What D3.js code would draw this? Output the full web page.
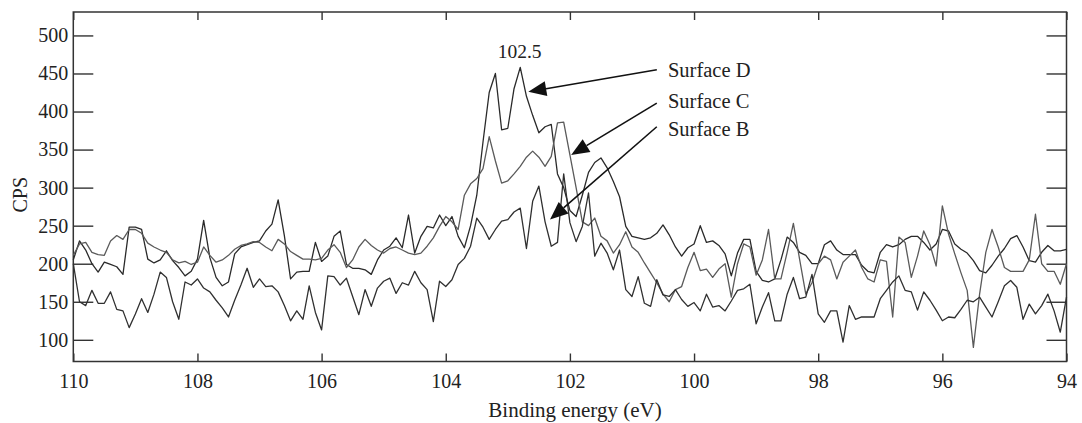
<!DOCTYPE html>
<html>
<head>
<meta charset="utf-8">
<script src="https://cdn.jsdelivr.net/npm/d3@7"></script>
<style>
  html, body { margin: 0; padding: 0; background: #fff; }
  svg { display: block; }
  .domain { display: none; }
</style>
</head>
<body>
<div id="chart"></div>
<script>
const WIDTH = 1082;
const HEIGHT = 423;
const MARGIN = { top: 12, right: 15.5, bottom: 61.5, left: 73.3 };
const FONT = '"Liberation Serif", "Times New Roman", serif';

// sampling grid of the spectra, 110 eV down to 94 eV in 0.1 eV steps
const energy = d3.range(161).map((i) => +(110 - i * 0.1).toFixed(1));

const surfaceD = [
  205, 230, 218, 200, 189, 202, 199, 196, 186, 248,
  248, 245, 206, 201, 205, 217, 204, 195, 184, 190,
  206, 257, 208, 182, 171, 176, 213, 222, 225, 228,
  230, 243, 252, 284, 237, 180, 189, 190, 190, 228,
  203, 210, 236, 243, 199, 194, 194, 192, 186, 205,
  218, 223, 234, 221, 264, 214, 236, 249, 247, 264,
  250, 262, 236, 221, 250, 290, 360, 425, 450, 376,
  378, 430, 458, 420, 395, 372, 380, 383, 318, 300,
  270, 262, 290, 320, 333, 339, 326, 308, 288, 249,
  236, 234, 232, 234, 240, 251, 238, 222, 210, 221,
  226, 250, 228, 230, 224, 213, 184, 214, 232, 232,
  190, 178, 176, 180, 205, 235, 228, 215, 211, 200,
  200, 225, 230, 218, 212, 212, 212, 198, 190, 188,
  215, 225, 222, 225, 232, 236, 236, 228, 218, 226,
  245, 243, 226, 219, 214, 204, 191, 188, 198, 210,
  220, 233, 237, 222, 204, 202, 215, 224, 217, 217,
  219,
];

const surfaceC = [
  211, 226, 228, 215, 212, 211, 230, 237, 232, 245,
  245, 240, 227, 222, 218, 215, 205, 201, 203, 199,
  202, 222, 211, 202, 205, 211, 219, 224, 226, 229,
  228, 222, 217, 232, 226, 216, 211, 206, 206, 205,
  207, 218, 225, 215, 195, 205, 222, 232, 224, 218,
  214, 220, 222, 218, 214, 212, 214, 223, 234, 249,
  262, 255, 245, 290, 305, 312, 325, 367, 335, 306,
  309, 318, 328, 340, 348, 340, 328, 341, 385, 386,
  343, 300, 255, 250, 260, 236, 230, 214, 225, 242,
  222, 215, 201, 188, 175, 160, 150, 166, 170, 195,
  215, 191, 193, 182, 193, 200, 156, 200, 226, 222,
  185, 205, 245, 180, 180, 215, 253, 206, 160, 175,
  200, 210, 205, 180, 202, 210, 218, 195, 180, 176,
  205, 203, 130, 235, 228, 182, 210, 243, 225, 197,
  276, 239, 213, 188, 165, 90, 160, 215, 245, 222,
  195, 190, 190, 190, 205, 265, 200, 190, 190, 173,
  200,
];

const surfaceB = [
  200, 150, 145, 165, 148, 148, 163, 140, 138, 116,
  134, 154, 136, 160, 189, 182, 150, 127, 176, 172,
  180, 168, 163, 152, 142, 130, 152, 172, 194, 169,
  180, 170, 171, 163, 145, 125, 138, 127, 171, 136,
  113, 184, 183, 172, 181, 157, 133, 166, 144, 168,
  177, 181, 161, 175, 172, 190, 175, 166, 124, 177,
  170, 179, 199, 207, 223, 260, 248, 232, 245, 256,
  258, 268, 273, 220, 282, 302, 255, 223, 228, 318,
  254, 229, 249, 293, 210, 227, 214, 192, 218, 166,
  157, 183, 148, 144, 179, 159, 157, 166, 153, 144,
  149, 138, 160, 143, 145, 138, 151, 165, 167, 173,
  121, 143, 162, 125, 125, 160, 182, 154, 156, 186,
  134, 123, 138, 138, 97, 145, 127, 130, 130, 130,
  154, 165, 176, 184, 165, 163, 139, 163, 152, 139,
  125, 130, 129, 140, 152, 150, 156, 143, 130, 150,
  171, 178, 169, 127, 147, 134, 145, 160, 138, 110,
  156,
];

const seriesNames = ["Surface D", "Surface C", "Surface B"];
const seriesColors = ["#2a2a2a", "#5a5a5a", "#303030"];
const xTicks = [110, 108, 106, 104, 102, 100, 98, 96, 94];
const yTicks = [100, 150, 200, 250, 300, 350, 400, 450, 500];

// arrow labels: tail/tip in data units (eV, CPS)
const arrowLabels = [
  { name: "Surface D", labelE: 100.42, labelV: 445.7, tailE: 100.6, tailV: 455, tipE: 102.67, tipV: 426 },
  { name: "Surface C", labelE: 100.42, labelV: 404.6, tailE: 100.6, tailV: 411, tipE: 101.98, tipV: 343 },
  { name: "Surface B", labelE: 100.42, labelV: 367.2, tailE: 100.6, tailV: 380, tipE: 102.32, tipV: 258 },
];
const peakLabel = { text: "102.5", e: 102.81, v: 470.3 };

const svg = d3
  .select("#chart")
  .append("svg")
  .attr("width", WIDTH)
  .attr("height", HEIGHT)
  .attr("font-family", FONT);

const x = d3.scaleLinear().domain([110, 94]).range([MARGIN.left, WIDTH - MARGIN.right]);
const y = d3.scaleLinear().domain([71.5, 530.8]).range([HEIGHT - MARGIN.bottom, MARGIN.top]);

const plotW = WIDTH - MARGIN.left - MARGIN.right;
const plotH = HEIGHT - MARGIN.top - MARGIN.bottom;

function styleAxis(g) {
  g.attr("font-family", FONT).attr("font-size", 20);
  g.selectAll(".tick line").attr("stroke", "#333").attr("stroke-width", 1.4);
  g.selectAll(".tick text").attr("fill", "#222");
}

svg
  .append("g")
  .attr("transform", `translate(0,${HEIGHT - MARGIN.bottom})`)
  .call(d3.axisBottom(x).tickValues(xTicks).tickSizeInner(-8).tickSizeOuter(0).tickPadding(12).tickFormat(d3.format("d")))
  .call(styleAxis);

svg
  .append("g")
  .attr("transform", `translate(0,${MARGIN.top})`)
  .call(d3.axisTop(x).tickValues(xTicks).tickSizeInner(-8).tickSizeOuter(0).tickFormat(""))
  .call(styleAxis);

svg
  .append("g")
  .attr("transform", `translate(${MARGIN.left},0)`)
  .call(d3.axisLeft(y).tickValues(yTicks).tickSizeInner(-20).tickSizeOuter(0).tickPadding(5).tickFormat(d3.format("d")))
  .call(styleAxis);

svg
  .append("g")
  .attr("transform", `translate(${WIDTH - MARGIN.right},0)`)
  .call(d3.axisRight(y).tickValues(yTicks).tickSizeInner(-20).tickSizeOuter(0).tickFormat(""))
  .call(styleAxis);

svg
  .append("rect")
  .attr("x", MARGIN.left)
  .attr("y", MARGIN.top)
  .attr("width", plotW)
  .attr("height", plotH)
  .attr("fill", "none")
  .attr("stroke", "#333")
  .attr("stroke-width", 1.5);

const line = d3
  .line()
  .x((d) => x(d[0]))
  .y((d) => y(d[1]));

svg
  .append("g")
  .attr("class", "spectra")
  .selectAll("path")
  .data([surfaceD, surfaceC, surfaceB])
  .join("path")
  .attr("d", (vals) => line(vals.map((v, i) => [energy[i], v])))
  .attr("fill", "none")
  .attr("stroke", (_, i) => seriesColors[i])
  .attr("stroke-width", 1.3)
  .attr("stroke-linejoin", "round");

// axis titles
svg
  .append("text")
  .attr("x", 575)
  .attr("y", 417)
  .attr("text-anchor", "middle")
  .attr("font-size", 21)
  .attr("fill", "#222")
  .text("Binding energy (eV)");

svg
  .append("text")
  .attr("transform", `translate(27,${(MARGIN.top + HEIGHT - MARGIN.bottom) / 2 + 8}) rotate(-90)`)
  .attr("text-anchor", "middle")
  .attr("font-size", 20)
  .attr("fill", "#222")
  .text("CPS");

// peak position label
svg
  .append("text")
  .attr("x", x(peakLabel.e))
  .attr("y", y(peakLabel.v))
  .attr("text-anchor", "middle")
  .attr("font-size", 19.5)
  .attr("fill", "#222")
  .text(peakLabel.text);

// arrows with filled triangular heads
const heads = svg.append("g").attr("class", "arrows");
arrowLabels.forEach((a) => {
  const x1 = x(a.tailE), y1 = y(a.tailV);
  const x2 = x(a.tipE), y2 = y(a.tipV);
  const ang = Math.atan2(y2 - y1, x2 - x1);
  const len = 18, half = 7.5;
  const bx = x2 - len * Math.cos(ang), by = y2 - len * Math.sin(ang);
  heads
    .append("line")
    .attr("x1", x1)
    .attr("y1", y1)
    .attr("x2", bx)
    .attr("y2", by)
    .attr("stroke", "#111")
    .attr("stroke-width", 1.6);
  heads
    .append("path")
    .attr(
      "d",
      `M${x2},${y2}L${bx - half * Math.sin(ang)},${by + half * Math.cos(ang)}L${bx + half * Math.sin(ang)},${by - half * Math.cos(ang)}Z`
    )
    .attr("fill", "#111");
  heads
    .append("text")
    .attr("x", x(a.labelE))
    .attr("y", y(a.labelV))
    .attr("font-size", 20.5)
    .attr("fill", "#222")
    .text(a.name);
});
</script>
</body>
</html>
